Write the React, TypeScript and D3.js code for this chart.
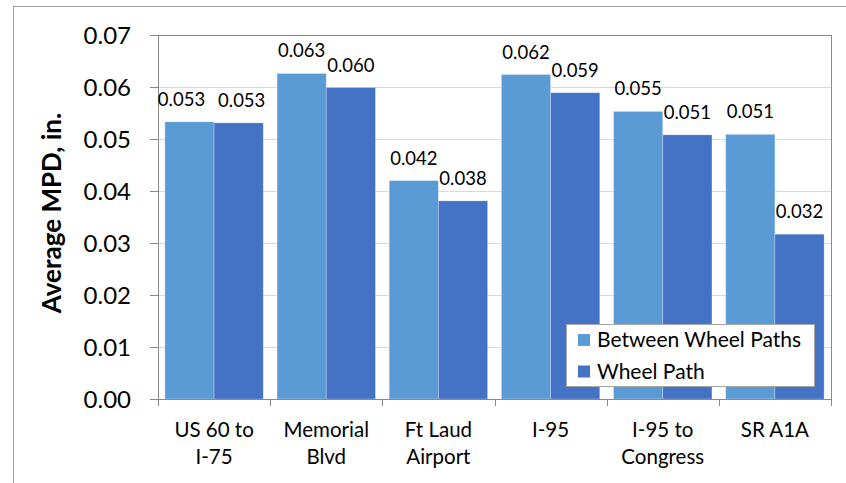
import React from "react";
import * as d3 from "d3";

const categories: string[][] = [
  ["US 60 to", "I-75"],
  ["Memorial", "Blvd"],
  ["Ft Laud", "Airport"],
  ["I-95"],
  ["I-95 to", "Congress"],
  ["SR A1A"],
];
const seriesNames = ["Between Wheel Paths", "Wheel Path"];
const betweenWheelPaths = [0.0533, 0.0626, 0.042, 0.0624, 0.0553, 0.0509];
const wheelPath = [0.0531, 0.0599, 0.0381, 0.0589, 0.0508, 0.0317];
const yTicks = [0, 0.01, 0.02, 0.03, 0.04, 0.05, 0.06, 0.07];
const colors = ["#5B9BD5", "#4472C4"];

const W = 846;
const H = 483;
const plot = { left: 158, right: 831, top: 35, bottom: 399 };
const FONT = "Lato, 'Open Sans', sans-serif";

export default function App() {
  const series = [betweenWheelPaths, wheelPath];
  const x = d3
    .scaleBand<number>()
    .domain(categories.map((_, i) => i))
    .range([plot.left, plot.right])
    .padding(0);
  const inner = d3
    .scaleBand<number>()
    .domain([0, 1])
    .range([0, x.bandwidth()])
    .paddingInner(0)
    .paddingOuter(0.14);
  const y = d3.scaleLinear().domain([0, 0.07]).range([plot.bottom, plot.top]);
  const fmt = d3.format(".3f");
  const bw = x.bandwidth();

  // nudge labels apart when the two labels of a group sit at nearly the same height
  const labelShift = (s: number, i: number) => {
    const dy = Math.abs(y(betweenWheelPaths[i]) - y(wheelPath[i]));
    if (dy >= 12) return 0;
    return s === 0 ? -8 : 3;
  };

  return (
    <svg
      width={W}
      height={H}
      style={{ position: "absolute", left: 0, top: 0, background: "#fff" }}
      fontFamily={FONT}
    >
      <rect x={0} y={0} width={W} height={H} fill="#fff" />
      <rect x={13.5} y={6.5} width={W} height={H} fill="none" stroke="#a0a0a0" strokeWidth={1} />
      {/* gridlines */}
      {yTicks.slice(1, -1).map((t) => (
        <line key={"g" + t} x1={plot.left} x2={plot.right} y1={Math.round(y(t)) + 0.5} y2={Math.round(y(t)) + 0.5} stroke="#d9d9d9" strokeWidth={1} />
      ))}
      {/* bars */}
      {series.map((vals, s) =>
        vals.map((v, i) => (
          <rect
            key={`b${s}-${i}`}
            x={(x(i) as number) + (inner(s) as number)}
            y={y(v)}
            width={inner.bandwidth()}
            height={plot.bottom - y(v)}
            fill={colors[s]}
            stroke="#ffffff"
            strokeOpacity={0.35}
            strokeWidth={0.75}
          />
        ))
      )}
      {/* plot border */}
      <rect x={plot.left + 0.5} y={plot.top + 0.5} width={plot.right - plot.left} height={plot.bottom - plot.top} fill="none" stroke="#898989" strokeWidth={1} />
      {/* y ticks */}
      {yTicks.map((t) => (
        <g key={"y" + t}>
          <line x1={plot.left - 8} x2={plot.left} y1={Math.round(y(t)) + 0.5} y2={Math.round(y(t)) + 0.5} stroke="#898989" />
          <text x={131} y={y(t)} dy="0.36em" textAnchor="end" fontSize={24} fill="#000">
            {t.toFixed(2)}
          </text>
        </g>
      ))}
      {/* x ticks */}
      {categories.map((_, i) => (
        <line key={"xt" + i} x1={Math.round(x(i) as number) + 0.5} x2={Math.round(x(i) as number) + 0.5} y1={plot.bottom} y2={plot.bottom + 7} stroke="#898989" />
      ))}
      <line x1={plot.right + 0.5} x2={plot.right + 0.5} y1={plot.bottom} y2={plot.bottom + 7} stroke="#898989" />
      {/* category labels */}
      {categories.map((lines, i) => (
        <text key={"c" + i} x={(x(i) as number) + bw / 2} y={437} textAnchor="middle" fontSize={20.5} fill="#000">
          {lines.map((l, k) => (
            <tspan key={k} x={(x(i) as number) + bw / 2} dy={k === 0 ? 0 : 27}>
              {l}
            </tspan>
          ))}
        </text>
      ))}
      {/* data labels */}
      {series.map((vals, s) =>
        vals.map((v, i) => (
          <text
            key={`l${s}-${i}`}
            x={(x(i) as number) + (inner(s) as number) + inner.bandwidth() / 2 + labelShift(s, i)}
            y={y(v) - 16}
            textAnchor="middle"
            fontSize={18.5}
            fill="#000"
          >
            {fmt(v)}
          </text>
        ))
      )}
      {/* y title */}
      <text
        transform={`translate(61, ${(plot.top + plot.bottom) / 2 - 4}) rotate(-90)`}
        textAnchor="middle"
        fontSize={26}
        fontWeight="bold"
        fill="#000"
      >
        Average MPD, in.
      </text>
      {/* legend */}
      <g>
        <rect x={566.5} y={324.5} width={248} height={62} fill="#fff" stroke="#a6a6a6" strokeWidth={1} />
        {seriesNames.map((n, s) => (
          <g key={"lg" + s}>
            <rect x={578} y={334 + s * 31.5} width={12} height={12} fill={colors[s]} />
            <text x={597} y={347 + s * 31.5} fontSize={21} fill="#000">
              {n}
            </text>
          </g>
        ))}
      </g>
    </svg>
  );
}
